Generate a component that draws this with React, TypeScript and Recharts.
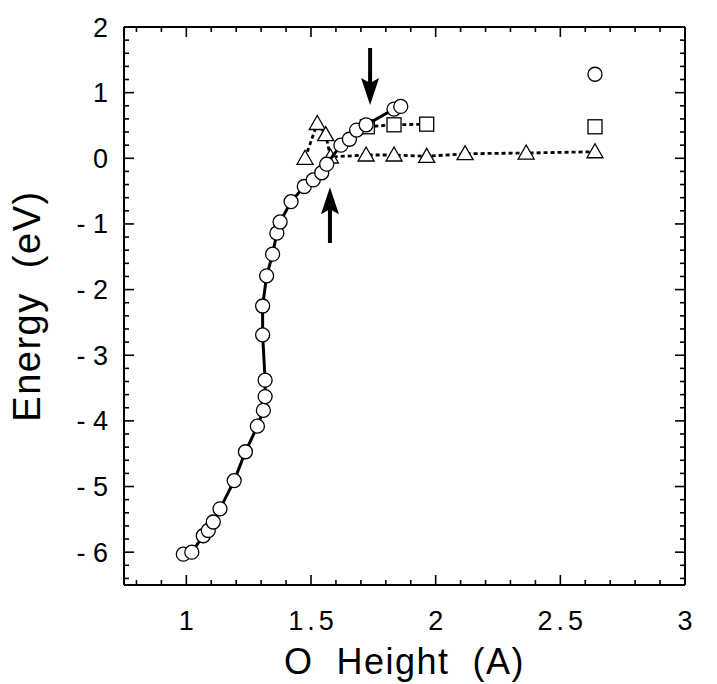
import React from "react";
import { ComposedChart, Scatter, XAxis, YAxis, ReferenceLine, Label } from "recharts";

// circles, joined by the solid line
const circles = [
  { x: 0.988, y: -6.03 }, { x: 1.022, y: -6.0 }, { x: 1.068, y: -5.75 },
  { x: 1.088, y: -5.67 }, { x: 1.108, y: -5.54 }, { x: 1.135, y: -5.34 },
  { x: 1.192, y: -4.91 }, { x: 1.237, y: -4.47 }, { x: 1.285, y: -4.08 },
  { x: 1.309, y: -3.84 }, { x: 1.316, y: -3.63 }, { x: 1.316, y: -3.38 },
  { x: 1.306, y: -2.69 }, { x: 1.306, y: -2.25 }, { x: 1.322, y: -1.79 },
  { x: 1.346, y: -1.46 }, { x: 1.363, y: -1.14 }, { x: 1.376, y: -0.97 },
  { x: 1.42, y: -0.66 }, { x: 1.473, y: -0.43 }, { x: 1.509, y: -0.33 },
  { x: 1.543, y: -0.22 }, { x: 1.563, y: -0.09 }, { x: 1.62, y: 0.2 },
  { x: 1.654, y: 0.29 }, { x: 1.683, y: 0.43 }, { x: 1.721, y: 0.51 },
  { x: 1.833, y: 0.75 }, { x: 1.86, y: 0.79 },
];
const squares = [
  { x: 1.726, y: 0.48 }, { x: 1.833, y: 0.51 }, { x: 1.964, y: 0.52 },
];
const triangles = [
  { x: 1.476, y: 0.0 }, { x: 1.525, y: 0.53 }, { x: 1.559, y: 0.36 },
  { x: 1.578, y: 0.02 }, { x: 1.721, y: 0.05 }, { x: 1.833, y: 0.05 },
  { x: 1.964, y: 0.03 }, { x: 2.118, y: 0.07 }, { x: 2.363, y: 0.08 },
  { x: 2.639, y: 0.1 },
];
// single points at the far right
const loneCircle = [{ x: 2.639, y: 1.28 }];
const loneSquare = [{ x: 2.639, y: 0.48 }];

// arrows: x, tail y, tip y
const arrows = [
  { x: 1.737, from: 1.68, to: 0.81 },
  { x: 1.576, from: -1.29, to: -0.44 },
];

const xMajor = [1, 1.5, 2, 2.5, 3];
const xLabels = ["1", "1.5", "2", "2.5", "3"];
const yMajor = [2, 1, 0, -1, -2, -3, -4, -5, -6];
const yLabels = ["2", "1", "0", "- 1", "- 2", "- 3", "- 4", "- 5", "- 6"];

const steps = (a: number, b: number, s: number) => {
  const out: number[] = [];
  for (let v = a; v <= b + 1e-9; v += s) out.push(Math.round(v * 10) / 10);
  return out;
};
const xTicks = steps(0.8, 3, 0.1);
const yTicks = steps(-6.4, 2, 0.2);

const FONT = '"Liberation Sans", Arial, Helvetica, sans-serif';
const majorIdx = (v: number, list: number[]) => list.findIndex((m) => Math.abs(m - v) < 1e-6);

function BottomTick(props: any) {
  const { x, y, payload } = props;
  const i = majorIdx(payload.value, xMajor);
  return (
    <g>
      <line x1={x} x2={x} y1={y} y2={y - (i >= 0 ? 10 : 5)} stroke="#000" strokeWidth={1.6} />
      {i >= 0 && (
        <text x={x + 2} y={y + 45} textAnchor="middle" fontSize={27} fontFamily={FONT} letterSpacing={4} fill="#000">
          {xLabels[i]}
        </text>
      )}
    </g>
  );
}

function TopTick(props: any) {
  const { x, y, payload } = props;
  const i = majorIdx(payload.value, xMajor);
  return <line x1={x} x2={x} y1={y} y2={y + (i >= 0 ? 10 : 5)} stroke="#000" strokeWidth={1.6} />;
}

function LeftTick(props: any) {
  const { x, y, payload } = props;
  const i = majorIdx(payload.value, yMajor);
  return (
    <g>
      <line x1={x} x2={x + (i >= 0 ? 10 : 5)} y1={y} y2={y} stroke="#000" strokeWidth={1.6} />
      {i >= 0 && (
        <text x={x - 16} y={y + 9.5} textAnchor="end" fontSize={27} fontFamily={FONT} fill="#000" style={{ whiteSpace: "pre" }}>
          {yLabels[i]}
        </text>
      )}
    </g>
  );
}

function RightTick(props: any) {
  const { x, y, payload } = props;
  const i = majorIdx(payload.value, yMajor);
  return <line x1={x} x2={x - (i >= 0 ? 10 : 5)} y1={y} y2={y} stroke="#000" strokeWidth={1.6} />;
}

const Circle = (p: any) => <circle cx={p.cx} cy={p.cy} r={7} fill="#fff" stroke="#000" strokeWidth={1.3} />;
const Square = (p: any) => <rect x={p.cx - 7} y={p.cy - 7} width={14} height={14} fill="#fff" stroke="#000" strokeWidth={1.3} />;
const Triangle = (p: any) => (
  <polygon
    points={`${p.cx},${p.cy - 8} ${p.cx - 8},${p.cy + 6} ${p.cx + 8},${p.cy + 6}`}
    fill="#fff"
    stroke="#000"
    strokeWidth={1.3}
  />
);

function Arrow(p: any) {
  const { x1, y1, x2, y2 } = p;
  const L = Math.hypot(x2 - x1, y2 - y1) || 1;
  const ux = (x2 - x1) / L, uy = (y2 - y1) / L;
  const nx = -uy, ny = ux;
  const head = 27, hw = 9, notch = 5;
  const bx = x2 - ux * head, by = y2 - uy * head;
  const mx = x2 - ux * (head - notch), my = y2 - uy * (head - notch);
  return (
    <g>
      <line x1={x1} y1={y1} x2={mx} y2={my} stroke="#000" strokeWidth={4} />
      <polygon points={`${x2},${y2} ${bx + nx * hw},${by + ny * hw} ${mx},${my} ${bx - nx * hw},${by - ny * hw}`} fill="#000" />
    </g>
  );
}

const solidLine = { stroke: "#000", strokeWidth: 3 };
const dotLine = { stroke: "#000", strokeWidth: 2.8, strokeDasharray: "4 3" };

export default function App() {
  return (
    <div style={{ position: "absolute", left: 0, top: 0 }}>
      <ComposedChart width={717} height={684} margin={{ top: 0, right: 0, bottom: 0, left: 0 }}>
        <XAxis
          xAxisId="b" dataKey="x" type="number" domain={[0.75, 3]} ticks={xTicks} interval={0}
          orientation="bottom" height={99} tickSize={0} tickMargin={0} tick={<BottomTick />}
          axisLine={{ stroke: "#000", strokeWidth: 2 }} allowDataOverflow
        >
          <Label
            content={(props: any) => {
              const vb = props.viewBox;
              return (
                <text x={vb.x + vb.width / 2} y={674} textAnchor="middle" fontSize={36} fontFamily={FONT} letterSpacing={1.5} style={{ whiteSpace: "pre" }}>
                  O  Height  (A)
                </text>
              );
            }}
          />
        </XAxis>
        <XAxis
          xAxisId="t" dataKey="x" type="number" domain={[0.75, 3]} ticks={xTicks} interval={0}
          orientation="top" height={27} tickSize={0} tickMargin={0} tick={<TopTick />}
          axisLine={{ stroke: "#000", strokeWidth: 2 }} allowDataOverflow
        />
        <YAxis
          yAxisId="l" dataKey="y" type="number" domain={[-6.5, 2]} ticks={yTicks} interval={0}
          orientation="left" width={124} tickSize={0} tickMargin={0} tick={<LeftTick />}
          axisLine={{ stroke: "#000", strokeWidth: 2 }} allowDataOverflow
        >
          <Label
            content={(props: any) => {
              const vb = props.viewBox;
              const cy = vb.y + vb.height / 2;
              return (
                <text x={40} y={cy} transform={`rotate(-90 40 ${cy})`} textAnchor="middle" fontSize={38} fontFamily={FONT} letterSpacing={1.5} style={{ whiteSpace: "pre" }}>
                  Energy  (eV)
                </text>
              );
            }}
          />
        </YAxis>
        <YAxis
          yAxisId="r" dataKey="y" type="number" domain={[-6.5, 2]} ticks={yTicks} interval={0}
          orientation="right" width={32} tickSize={0} tickMargin={0} tick={<RightTick />}
          axisLine={{ stroke: "#000", strokeWidth: 2 }} allowDataOverflow
        />

        <Scatter data={triangles} xAxisId="b" yAxisId="l" line={dotLine} shape={Triangle} isAnimationActive={false} />
        <Scatter data={squares} xAxisId="b" yAxisId="l" line={dotLine} shape={Square} isAnimationActive={false} />
        <Scatter data={circles} xAxisId="b" yAxisId="l" line={solidLine} shape={Circle} isAnimationActive={false} />
        <Scatter data={loneSquare} xAxisId="b" yAxisId="l" shape={Square} isAnimationActive={false} />
        <Scatter data={loneCircle} xAxisId="b" yAxisId="l" shape={Circle} isAnimationActive={false} />

        {arrows.map((a, i) => (
          <ReferenceLine
            key={i}
            xAxisId="b"
            yAxisId="l"
            segment={[{ x: a.x, y: a.from }, { x: a.x, y: a.to }]}
            shape={<Arrow />}
            ifOverflow="visible"
          />
        ))}
      </ComposedChart>
    </div>
  );
}
